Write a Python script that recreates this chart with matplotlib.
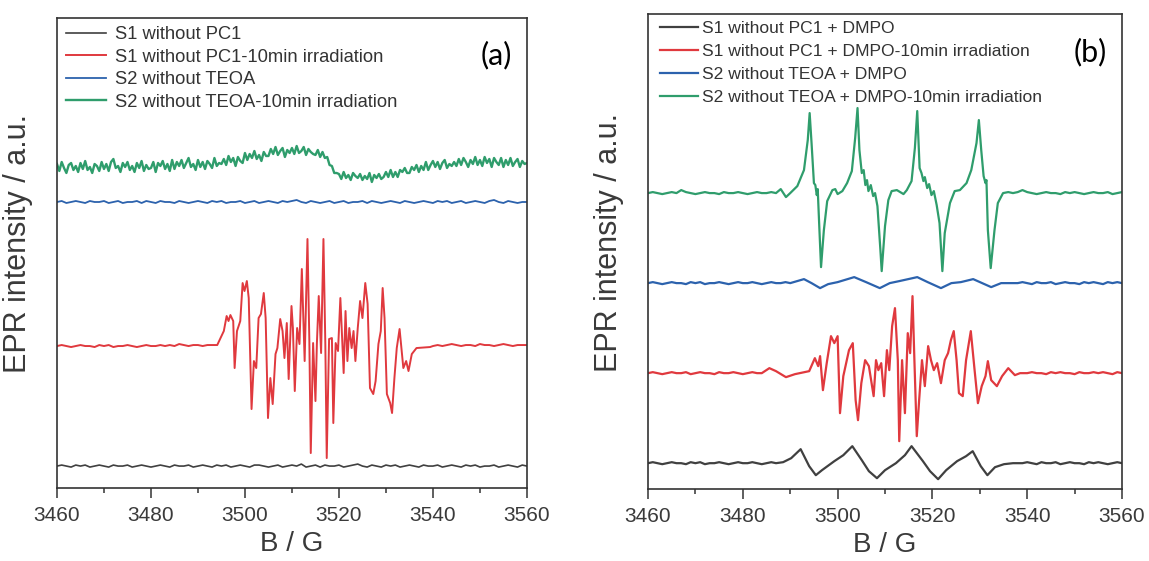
import numpy as np
import matplotlib
matplotlib.use("Agg")
import matplotlib.pyplot as plt

plt.rcParams['font.family'] = ['Liberation Sans', 'DejaVu Sans']

# ---------------- panel (a) data ----------------
labels_a = ["S1 without PC1", "S1 without PC1-10min irradiation",
            "S2 without TEOA", "S2 without TEOA-10min irradiation"]
base_a = [22, 142, 286, 323]   # vertical offsets of the stacked spectra

# S1 without PC1 (flat, 1 G steps)
black_a = [0, 1, 0, -1, 1, 0, 1, -1, 0, 1, 0, -1, 1, 0, 0, 1, -1, 0, 1, 0,
           -1, 0, 1, 0, -1, 1, 0, 0, 1, -1, 0, 1, 0, -1, 1, 0, 1, -1, 0, 1,
           0, -1, 1, 1, 0, -1, 0, 1, -1, 0, 1, 0, 2, -1, 0, 1, -1, 1, 0, 0,
           1, -1, 0, 1, 2, 0, -1, 1, 0, -1, 1, 0, 1, -1, 0, 1, 0, -1, 1, 0,
           0, 1, -1, 0, 1, 0, -1, 1, 0, 1, -1, 0, 0, 1, -1, 0, 1, 0, -1, 1, 0]

# S1 without PC1-10min irradiation
red_a_left = [0, 1, 0, -1, 0, 1, 0, 0, -1, 1, 0, 1, -1, 0, 0, 1, 0, -1, 0, 1,
              0, 0, 1, 0, 1, 0, 2, 1, 0, 1, 1, 0, 1, 1]
red_a_feat_x = [3494.1, 3495.5, 3496.1, 3496.5, 3496.9, 3497.5, 3497.8, 3498.3, 3499.0, 3499.5,
                3499.9, 3500.4, 3500.8, 3501.4, 3501.9, 3502.4, 3502.9, 3503.4, 3504.0, 3504.4,
                3504.9, 3505.4, 3505.9, 3506.5, 3506.9, 3507.5, 3508.0, 3508.4, 3508.9, 3509.3,
                3509.9, 3510.2, 3510.6, 3511.1, 3511.6, 3512.1, 3512.7, 3513.3, 3513.7, 3514.0,
                3514.5, 3515.0, 3515.3, 3515.7, 3516.2, 3516.7, 3517.1, 3517.4, 3517.9, 3518.5,
                3518.8, 3519.3, 3519.8, 3520.3, 3520.6, 3521.0, 3521.4, 3521.8, 3522.2, 3522.7,
                3523.1, 3523.5, 3524.0, 3524.5, 3525.0, 3525.6, 3526.1, 3526.6, 3527.3, 3527.8,
                3528.4, 3528.9, 3529.3, 3529.7, 3530.2, 3530.9, 3531.3, 3531.8, 3532.3, 3532.9,
                3533.4, 3533.7, 3534.3, 3534.8, 3535.5, 3536.5, 3539.4]
red_a_feat_y = [1, 15, 30, 25, 31, 25, -22, 15, 25, 63,
                55, 65, 48, -63, -15, -22, 28, 32, 53, 28,
                -72, -32, -58, -8, -2, 27, 15, -12, 23, -33,
                40, 18, -45, 18, 2, 77, -15, 107, 5, -107,
                3, -55, 2, 50, -7, 107, 2, -112, 7, 8,
                -77, 3, -5, 48, 15, -27, 35, -15, 18, -2,
                15, -15, 18, 45, 28, 63, 42, -42, -48, -35,
                2, 15, 58, 28, -48, -57, -67, -32, -2, 17,
                -8, -22, -15, -25, -8, -2, -1]
red_a_right = [0, 1, 0, 1, 2, 1, 0, 1, 1, 0, 2, 1, 1, 0, 1, 2, 1, 0, 1, 1, 1]

# S2 without TEOA (flat, 1 G steps)
blue_a = [0, 1, -1, 0, 1, 0, -1, 1, 0, 0, 1, -1, 0, 1, -1, 0, 0, 1, -1, 1,
          0, -1, 1, 0, 0, -1, 1, 0, -1, 0, 1, 0, -1, 1, 0, 1, -1, 0, 0, 1,
          -1, 0, 1, -1, 0, 1, 0, -1, 1, 0, 1, 2, 0, -1, 1, 0, -1, 0, 1, -1,
          0, 1, -1, 0, 0, 1, -1, 1, 0, -1, 0, 1, 0, -1, 1, 0, -1, 0, 1, 0,
          -1, 1, 0, 1, -1, 0, 1, -1, 0, 1, 0, -1, 1, 2, 0, -1, 1, 0, -1, 0, 0]

# S2 without TEOA-10min irradiation (noisy, 0.5 G steps)
green_a = [1, -6, 3, -3, -8, 0, 2, -5, -1, -7,
           2, -4, 4, -5, -2, -8, 1, -1, -6, 3,
           -4, 1, -6, 3, 6, -3, -1, -7, 2, -2,
           3, -5, -1, -7, 2, -3, 4, -6, 0, -4,
           -3, 3, -7, 2, -1, 4, -4, 1, -6, 5,
           -4, 3, -1, 5, -3, 2, 7, -2, 1, -5,
           5, -2, 3, -4, 4, 1, -3, 7, -1, 2,
           1, 6, 0, 9, 3, 7, -1, 8, 4, 2,
           12, 5, 11, 7, 14, 6, 10, 4, 13, 9,
           9, 16, 11, 18, 10, 14, 17, 8, 15, 12,
           17, 11, 19, 12, 14, 18, 10, 16, 13, 11,
           10, 15, 8, 13, 7, 8, 0, -1, -8, -8,
           -9, -14, -7, -13, -10, -15, -8, -11, -13, -9,
           -15, -11, -14, -8, -17, -10, -13, -9, -14, -12,
           -7, -12, -5, -12, -7, -12, -5, -7, -3, -8,
           -8, -2, -5, 0, -7, -1, -5, 3, -5, 0,
           4, -2, 3, -4, 2, 5, -3, 1, -1, 3,
           -1, 6, 0, 7, 3, -2, 5, 1, 8, 0,
           5, -1, 8, 2, 6, -2, 7, 3, 0, 7,
           -2, 5, 0, 7, -1, 3, 6, -2, 4, 1,
           2]

# ---------------- panel (b) data ----------------
labels_b = ["S1 without PC1 + DMPO", "S1 without PC1 + DMPO-10min irradiation",
            "S2 without TEOA + DMPO", "S2 without TEOA + DMPO-10min irradiation"]
base_b = [26, 116, 206, 296]

black_b_left = [0, 1, 0, -1, 0, 1, 0, 0, -1, 1, 0, 1, -1, 0, 0, 1, 0, -1, 0, 1,
                0, 0, 1, 0, -1, 0, 1]
black_b_x = [3487.0, 3488.5, 3490.2, 3492.2, 3494.0, 3495.4, 3496.7, 3499.3, 3501.2, 3503.1,
             3505.1, 3506.6, 3508.3, 3510.0, 3512.3, 3514.2, 3515.6, 3518.0, 3519.5, 3521.2,
             3522.9, 3525.2, 3527.1, 3528.5, 3530.2, 3531.6, 3533.2, 3535.1, 3537.0]
black_b_y = [0, 1, 5, 14, -3, -12, -7, 2, 8, 17,
             3, -8, -15, -7, 0, 8, 17, 2, -8, -16,
             -7, 2, 7, 12, -3, -12, -4, -1, 0]
black_b_right = [0, 1, 0, -1, 1, 0, 0, 1, -1, 0, 1, 0, 0, -1, 1, 0, 1, 0, -1, 0, 1, 0]

red_b_left = [0, 1, 0, -1, 0, 1, 0, 0, 1, -1, 0, 1, 0, 0, -1, 1, 0, 0, 1, 0,
              -1, 0, 1, 0]
red_b_x = [3484.0, 3485.6, 3487.0, 3489.1, 3491.0, 3494.0, 3495.2, 3495.9, 3496.3, 3496.9,
           3497.7, 3498.6, 3499.3, 3500.0, 3500.5, 3501.2, 3502.4, 3503.2, 3503.8, 3504.3,
           3505.0, 3505.8, 3506.6, 3507.6, 3508.1, 3508.6, 3509.2, 3509.8, 3510.4, 3510.9,
           3511.5, 3512.1, 3512.7, 3513.0, 3513.6, 3514.2, 3514.8, 3515.3, 3515.8, 3516.2,
           3516.7, 3517.2, 3517.8, 3518.4, 3519.1, 3519.7, 3520.3, 3521.0, 3521.8, 3522.6,
           3523.3, 3523.9, 3524.5, 3525.1, 3525.6, 3526.4, 3527.1, 3528.1, 3528.9, 3529.6,
           3530.4, 3531.2, 3531.7, 3532.4, 3533.6, 3534.7, 3536.0, 3537.4, 3538.5]
red_b_y = [0, 5, 2, -4, -1, 2, 15, 7, 17, -17,
           10, 37, 30, 37, -40, -3, 23, 30, -27, -47,
           -10, 13, 7, -23, 13, 3, 10, -23, 23, 3,
           47, 65, 13, -68, 13, -40, 40, 20, 77, 13,
           -63, -27, 13, -13, 27, 13, 3, 10, -10, 13,
           20, 33, 42, 13, -20, -23, 13, 42, 3, -30,
           -13, -3, 12, -7, -13, -3, 5, -2, 0]
red_b_right = [0, 1, 0, 0, -1, 1, 0, 1, 0, 0, -1, 1, 0, 0, 1, 0, 1, 0, -1, 1, 0]

blue_b_left = [0, 1, 0, -1, 0, 1, 0, 0, -1, 1, 0, 1, -1, 0, 0, 1, 0, -1, 0, 1,
               0, 0, 1, 0, -1, 0, 1, 0, 0, 1]
blue_b_x = [3490.0, 3492.9, 3494.5, 3496.3, 3498.0, 3500.0, 3503.5, 3506.0, 3508.9, 3511.0,
            3513.0, 3516.8, 3519.0, 3521.8, 3524.0, 3526.0, 3528.6, 3530.5, 3532.4, 3534.5,
            3537.0]
blue_b_y = [0, 4, 0, -5, -1, 1, 6, 1, -5, 0,
            2, 6, 1, -5, 0, 1, 4, 0, -4, 0,
            0]
blue_b_right = [0, 1, 0, -1, 1, 0, 0, 1, -1, 0, 1, 0, 0, -1, 1, 0, 1, 0, -1, 1, 0, 1, 0]

green_b_left = [0, 1, 0, -1, 0, 1, 0, 3, 1, 0, -1, 0, 1, 0, 0, -1, 1, 0, 0, 1,
                0, -1, 0, 1, 0, 0, 1]
green_b_x = [3487.0, 3488.0, 3489.1, 3490.0, 3491.5, 3492.9, 3493.7, 3494.1, 3494.5, 3495.0,
             3495.3, 3495.6, 3495.8, 3496.1, 3496.5, 3497.1, 3497.8, 3498.9, 3499.5, 3500.0,
             3501.0, 3502.0, 3503.0, 3503.7, 3504.2, 3504.6, 3505.1, 3505.5, 3505.85, 3506.2,
             3506.5, 3507.0, 3507.5, 3507.9, 3508.4, 3509.0, 3509.3, 3510.0, 3510.7, 3511.4,
             3512.5, 3513.9, 3514.6, 3515.6, 3516.3, 3516.8, 3517.3, 3517.7, 3518.1, 3518.4,
             3518.9, 3519.3, 3519.8, 3520.3, 3520.9, 3521.5, 3522.1, 3522.6, 3523.7, 3524.7,
             3525.8, 3527.2, 3528.2, 3529.3, 3529.8, 3530.3, 3530.8, 3531.2, 3531.4, 3531.7,
             3532.3, 3533.1, 3533.8, 3534.9, 3536.0]
green_b_y = [0, 4, -4, 0, 7, 23, 53, 80, 50, 10,
             8, -2, 4, -30, -74, -37, -8, 3, 4, -1,
             2, 10, 22, 55, 85, 43, 20, 23, 8, 13,
             2, 8, -3, 0, -13, -55, -78, -33, -7, 2,
             3, -1, 3, 12, 45, 82, 25, 20, 12, 16,
             5, 9, -2, 2, -12, -30, -78, -40, -10, 2,
             3, 10, 23, 50, 73, 43, 17, 10, 13, -37,
             -75, -37, -10, 0, 1]
green_b_right = [0, 1, 3, 1, 0, -1, 0, 1, 0, 0, -1, 1, 0, 1, 0, -1, 0, 1, 0, 0,
                 1, -1, 0, 1]

colors = ["#404040", "#e0393e", "#2c62ad", "#2f9d6c"]


def flat_x(vals, start=None, end=None):
    n = len(vals)
    if start is not None:
        return start + np.arange(n, dtype=float)
    return end - np.arange(n, dtype=float)[::-1]


def build(left, fx, fy, right):
    x = np.concatenate([flat_x(left, start=3460), fx, flat_x(right, end=3560)])
    y = np.concatenate([left, fy, right]).astype(float)
    return x, y


fig = plt.figure(figsize=(11.49, 5.61), dpi=100)
ax_a = fig.add_axes([0.0496, 0.130, 0.409, 0.838])
ax_b = fig.add_axes([0.564, 0.128, 0.4125, 0.847])

# panel (a) traces
xa_black = flat_x(black_a, start=3460)
xa_red, ya_red = build(red_a_left, red_a_feat_x, red_a_feat_y, red_a_right)
xa_blue = flat_x(blue_a, start=3460)
xa_green = 3460 + 0.5 * np.arange(len(green_a))

ax_a.plot(xa_black, np.array(black_a) + base_a[0], color=colors[0], lw=1.2, label=labels_a[0])
ax_a.plot(xa_red, ya_red + base_a[1], color=colors[1], lw=1.4, label=labels_a[1])
ax_a.plot(xa_blue, np.array(blue_a) + base_a[2], color=colors[2], lw=1.3, label=labels_a[2])
ax_a.plot(xa_green, np.array(green_a) + base_a[3], color=colors[3], lw=1.7, label=labels_a[3])
ax_a.set_ylim(0, 470)

# panel (b) traces
traces_b = [build(black_b_left, black_b_x, black_b_y, black_b_right),
            build(red_b_left, red_b_x, red_b_y, red_b_right),
            build(blue_b_left, blue_b_x, blue_b_y, blue_b_right),
            build(green_b_left, green_b_x, green_b_y, green_b_right)]
for (x, y), b, c, lab in zip(traces_b, base_b, colors, labels_b):
    ax_b.plot(x, y + b, color=c, lw=1.6, label=lab)
ax_b.set_ylim(0, 475)

for ax, tag, leg_anchor, pad, lfs, lsp in [(ax_a, "(a)", (0.019, 0.982), 0.45, 13.2, 0.3),
                                           (ax_b, "(b)", (0.025, 0.985), 0.2, 12.6, 0.44)]:
    ax.set_xlim(3460, 3560)
    ax.set_xticks(np.arange(3460, 3561, 20))
    ax.set_xticks(np.arange(3470, 3560, 20), minor=True)
    ax.set_yticks([])
    ax.tick_params(axis='x', which='major', direction='out', length=7, width=1.1,
                   labelsize=15, pad=6, colors='#333333', labelcolor='#3a3a3a')
    ax.tick_params(axis='x', which='minor', direction='out', length=3.5, width=1.1,
                   colors='#333333')
    for s in ax.spines.values():
        s.set_linewidth(1.2)
        s.set_color('#333333')
    ax.set_xlabel("B / G", fontsize=20, color='#3a3a3a', labelpad=4)
    ax.set_ylabel("EPR intensity / a.u.", fontsize=22, color='#3a3a3a')
    ax.yaxis.set_label_coords(-0.05, 0.52)
    ax.legend(loc='upper left', bbox_to_anchor=leg_anchor, frameon=False, fontsize=lfs,
              handlelength=2.2, handletextpad=pad, labelspacing=lsp,
              borderaxespad=0, borderpad=0, labelcolor='#333333')
    ax.text(0.934, 0.92, tag, transform=ax.transAxes, fontsize=22,
            family=['Lato', 'DejaVu Sans'], ha='center', va='center', color='black')

fig.savefig("out.png", dpi=100)
